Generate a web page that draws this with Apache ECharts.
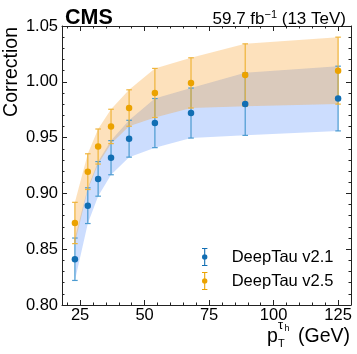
<!DOCTYPE html>
<html>
<head>
<meta charset="utf-8">
<script src="https://cdn.jsdelivr.net/npm/echarts@6/dist/echarts.min.js"></script>
<style>
  body { margin: 0; padding: 0; background: #fff; }
  #chart { width: 357px; height: 354px; }
</style>
</head>
<body>
<div id="chart"></div>
<script>
  // pT bin positions (GeV)
  const ptValues = [23, 28, 32, 37, 44, 54, 68, 89, 125];
  // DeepTau v2.1 correction and uncertainty
  const v21Values = [0.841, 0.889, 0.913, 0.932, 0.949, 0.963, 0.972, 0.980, 0.985];
  const v21Errors = [0.019, 0.016, 0.0155, 0.0153, 0.0165, 0.022, 0.0224, 0.028, 0.029];
  // DeepTau v2.5 correction and uncertainty
  const v25Values = [0.8735, 0.9195, 0.942, 0.960, 0.9765, 0.990, 0.999, 1.006, 1.010];
  const v25Errors = [0.0185, 0.016, 0.0157, 0.0154, 0.0163, 0.022, 0.0225, 0.028, 0.030];
  // axis ticks
  const xMajorTicks = [25, 50, 75, 100, 125];
  const xMinorTicks = [20, 30, 35, 40, 45, 55, 60, 65, 70, 80, 85, 90, 95, 105, 110, 115, 120, 130];

  const font = 'Liberation Sans, Arial, Helvetica, sans-serif';
  const frame = '#222';
  const colors = {
    v21: { dot: '#116eb3', bar: '#4b9bd1', band: 'rgba(87,144,252,0.30)' },
    v25: { dot: '#eba200', bar: '#efb43a', band: 'rgba(248,156,32,0.30)' }
  };

  let myChart = echarts.init(document.getElementById('chart'), null, { renderer: 'canvas' });

  function bandSeries(vals, errs, fill) {
    return {
      type: 'custom',
      silent: true,
      z: 1,
      data: [[ptValues[0], vals[0]]],
      renderItem: function (params, api) {
        let pts = [];
        for (let i = 0; i < ptValues.length; i++) {
          pts.push(api.coord([ptValues[i], vals[i] + errs[i]]));
        }
        for (let i = ptValues.length - 1; i >= 0; i--) {
          pts.push(api.coord([ptValues[i], vals[i] - errs[i]]));
        }
        return { type: 'polygon', shape: { points: pts }, style: { fill: fill } };
      }
    };
  }

  function errorSeries(vals, errs, stroke) {
    return {
      type: 'custom',
      silent: true,
      z: 3,
      data: ptValues.map((p, i) => [p, vals[i], errs[i]]),
      renderItem: function (params, api) {
        let x = api.value(0), y = api.value(1), e = api.value(2);
        let top = api.coord([x, y + e]);
        let bot = api.coord([x, y - e]);
        let st = { stroke: stroke, lineWidth: 1.2 };
        return {
          type: 'group',
          children: [
            { type: 'line', shape: { x1: top[0], y1: top[1], x2: bot[0], y2: bot[1] }, style: st },
            { type: 'line', shape: { x1: top[0] - 2.8, y1: top[1], x2: top[0] + 2.8, y2: top[1] }, style: st },
            { type: 'line', shape: { x1: bot[0] - 2.8, y1: bot[1], x2: bot[0] + 2.8, y2: bot[1] }, style: st }
          ]
        };
      }
    };
  }

  function xAxisPart(position, ticks, len, withLabels, withLine) {
    return {
      type: 'value',
      position: position,
      min: 18,
      max: 130,
      axisLine: { show: withLine, onZero: false, lineStyle: { color: frame, width: 1 } },
      axisTick: { show: true, inside: true, length: len, customValues: ticks, lineStyle: { color: frame, width: 1 } },
      axisLabel: withLabels
        ? { show: true, customValues: ticks, margin: 2, color: '#000', fontSize: 16.5, fontFamily: font }
        : { show: false },
      splitLine: { show: false }
    };
  }

  function yAxisPart(position, withLabels) {
    return {
      type: 'value',
      position: position,
      min: 0.8,
      max: 1.05,
      interval: 0.05,
      axisLine: { show: true, onZero: false, lineStyle: { color: frame, width: 1 } },
      axisTick: { show: true, inside: true, length: 5, lineStyle: { color: frame, width: 1 } },
      minorTick: { show: true, splitNumber: 5, length: 2.5, lineStyle: { color: frame, width: 1 } },
      axisLabel: withLabels
        ? { show: true, margin: 4, color: '#000', fontSize: 16.5, fontFamily: font, formatter: v => v.toFixed(2) }
        : { show: false },
      splitLine: { show: false }
    };
  }

  // 误差棒图例图标
  const errIcon = 'path://M3,0h6v1.2h-6zM5.4,0h1.2v20h-1.2zM3,18.8h6v1.2h-6zM6,7a3,3 0 1,1 0,6a3,3 0 1,1 0,-6z';

  let option = {
    animation: false,
    title: [
      {
        text: 'CMS',
        left: 60, top: 2,
        textStyle: { fontFamily: font, fontWeight: 'bold', fontSize: 21.5, color: '#000' }
      },
      {
        text: '{a|59.7 fb}{s|−1}{a| (13 TeV)}',
        right: 6, top: 4,
        textStyle: {
          fontWeight: 'normal',
          rich: {
            a: { fontFamily: font, fontSize: 17, fontWeight: 'normal', color: '#000' },
            s: { fontFamily: font, fontSize: 11, fontWeight: 'normal', color: '#000', padding: [0, 0, 9, 0] }
          }
        }
      }
    ],
    grid: { left: 62, right: 6, top: 26, bottom: 49, containLabel: false },
    legend: {
      left: 197, top: 243,
      orient: 'vertical',
      itemWidth: 26, itemHeight: 18, itemGap: 6,
      selectedMode: false,
      textStyle: { fontFamily: font, fontSize: 16.5, color: '#000', padding: [0, 0, 0, 9] },
      data: [
        { name: 'DeepTau v2.1', icon: errIcon },
        { name: 'DeepTau v2.5', icon: errIcon }
      ]
    },
    xAxis: [
      xAxisPart('bottom', xMajorTicks, 5, true, true),
      xAxisPart('bottom', xMinorTicks, 2.5, false, false),
      xAxisPart('top', xMajorTicks, 5, false, true),
      xAxisPart('top', xMinorTicks, 2.5, false, false)
    ],
    yAxis: [
      yAxisPart('left', true),
      yAxisPart('right', false)
    ],
    series: [
      bandSeries(v21Values, v21Errors, colors.v21.band),
      bandSeries(v25Values, v25Errors, colors.v25.band),
      errorSeries(v21Values, v21Errors, colors.v21.bar),
      errorSeries(v25Values, v25Errors, colors.v25.bar),
      {
        name: 'DeepTau v2.1',
        type: 'scatter',
        z: 4,
        symbolSize: 6.5,
        itemStyle: { color: colors.v21.dot, opacity: 1 },
        data: ptValues.map((p, i) => [p, v21Values[i]])
      },
      {
        name: 'DeepTau v2.5',
        type: 'scatter',
        z: 4,
        symbolSize: 6.5,
        itemStyle: { color: colors.v25.dot, opacity: 1 },
        data: ptValues.map((p, i) => [p, v25Values[i]])
      }
    ],
    graphic: [
      {
        type: 'text', x: 12, y: 27, rotation: Math.PI / 2,
        style: { text: 'Correction', fontFamily: font, fontSize: 19.5, fill: '#000', align: 'right', verticalAlign: 'middle' }
      },
      {
        type: 'group',
        children: [
          { type: 'text', x: 267, y: 337, style: { text: 'p', fontFamily: font, fontSize: 19.5, fill: '#000', verticalAlign: 'middle' } },
          { type: 'text', x: 278, y: 343.5, style: { text: 'T', fontFamily: font, fontSize: 11, fill: '#000', verticalAlign: 'middle' } },
          { type: 'text', x: 278, y: 325, style: { text: 'τ', fontFamily: font, fontSize: 13, fill: '#000', verticalAlign: 'middle' } },
          { type: 'text', x: 284.5, y: 329, style: { text: 'h', fontFamily: font, fontSize: 9, fill: '#000', verticalAlign: 'middle' } },
          { type: 'text', x: 350, y: 337, style: { text: '(GeV)', fontFamily: font, fontSize: 19.5, fill: '#000', align: 'right', verticalAlign: 'middle' } }
        ]
      }
    ]
  };
  myChart.setOption(option);
</script>
</body>
</html>
